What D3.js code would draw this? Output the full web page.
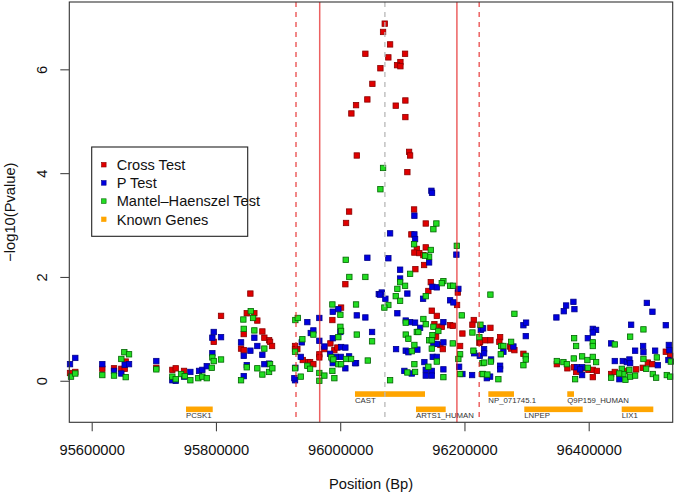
<!DOCTYPE html>
<html><head><meta charset="utf-8">
<script src="https://cdn.jsdelivr.net/npm/d3@7"></script>
<style>body{margin:0;background:#fff}svg{display:block;font-family:"Liberation Sans",Arial,sans-serif}</style>
</head><body><svg id="c" width="675" height="495"></svg>
<script>
// ---------- data ----------
const crossTest = [
[95565100,0.15],[95573600,0.17],[95617100,0.23],[95635900,0.24],[95647700,0.23],[95653100,0.23],[95654700,0.37],
[95704000,0.25],[95729800,0.21],[95735200,0.24],[95748600,0.19],[95796400,0.75],[95808200,1.25],[95855400,1.68],
[95849600,1.30],[95861800,1.30],[95866600,1.16],[95844700,0.90],[95840400,0.62],[95844700,0.59],[95874700,0.95],
[95877900,0.83],[95885500,0.78],[95887100,0.75],[95890300,0.67],
[95927300,0.67],[95931000,0.61],[95927300,0.61],[95939700,0.40],[95948200,0.36],[95951500,0.36],[95956800,0.32],
[95966400,0.51],[95966400,0.45],[95974500,0.61],[95984200,0.72],[95990600,0.59],[95995400,0.64],[95987400,1.17],
[96001400,1.41],[96008300,1.86],[96009400,3.04],[96014300,3.26],
[96071700,6.88],[96069000,6.72],[96080300,6.48],[96040500,6.30],[96104400,6.30],[96077500,6.23],[96096900,6.14],
[96091500,6.08],[96096900,6.06],[96064700,6.02],[96051800,5.72],[96043700,5.42],[96104900,5.40],[96025500,5.31],
[96089400,5.30],[96018000,5.15],[96104900,5.08],[96110900,4.41],[96112500,4.34],[96026700,4.34],[96108100,4.02],
[96118900,3.30],[96137700,3.03],[96114600,2.82],[96137700,2.57],[96123300,2.54],[96119400,2.47],[96127400,2.46],
[96133900,2.42],[96135000,2.23],[96121000,2.15],[96145800,1.90],[96141900,1.73],[96147400,1.35],[96155500,1.25],
[96151600,1.09],[96158000,1.04],[96163500,1.04],[96176900,1.07],[96181200,1.06],[96154300,0.85],[96161300,0.69],
[96165100,0.61],[96193000,0.67],[96196700,0.91],[96189300,1.70],[96188100,1.46],[96215000,1.17],[96212800,1.08],
[96224000,0.73],
[96241800,1.02],[96225200,0.75],[96233200,0.78],[96241800,0.78],[96257400,0.84],[96256200,0.75],[96273500,0.66],
[96275100,0.62],[96280400,0.59],[96294900,0.52],[96348700,0.32],[96365700,0.24],[96376500,0.26],[96379700,0.17],
[96388900,0.24],[96399500,0.21],[96406600,0.21],[96413100,0.19],[96406600,0.07],[96436100,0.13],[96442000,0.17],
[96457500,0.19],[96476300,0.22],[96487100,0.25],[96495200,0.35],[96502100,0.32],[96524100,0.56],[96531100,0.48]
];
const pTest = [
[95565100,0.32],[95573600,0.44],[95617100,0.32],[95635900,0.19],[95647700,0.14],[95653100,0.31],[95660100,0.32],
[95704000,0.38],[95729800,0.01],[95735200,0.00],[95758800,0.17],[95772800,0.19],[95778100,0.21],[95785200,0.28],
[95794200,0.53],[95794200,0.83],[95796400,0.94],[95808200,0.84],[95840400,0.74],[95844700,0.48],[95855400,0.58],
[95861800,0.83],[95866600,0.67],[95874700,0.50],[95877900,0.32],[95885500,0.33],[95849600,0.30],[95844700,0.09],
[95748600,0.08],
[95927800,0.25],[95927300,0.01],[95926200,0.05],[95936500,0.46],[95938100,0.74],[95947100,1.13],[95952600,0.92],
[95956800,0.97],[95966400,1.21],[95966400,0.77],[95974500,0.66],[95983700,0.52],[95988000,0.82],[95988000,1.33],
[95997000,1.38],[96000300,0.94],[96001400,0.65],[96008300,0.64],[96000900,0.46],[96014300,0.47],[95988000,0.42],
[95992800,0.46],[96025500,0.34],[95988000,0.34],[96008300,0.24],[96026700,1.26],[96040500,1.22],[96043700,2.37],
[96062100,1.67],[96051300,0.94],[96023900,0.34],
[96146800,3.66],[96147800,3.62],[96119400,3.18],[96080300,2.84],[96119400,2.82],[96120500,2.73],[96143100,2.28],
[96077500,2.36],[96096400,2.14],[96096400,1.97],[96148400,1.81],[96155500,1.80],[96190200,1.77],[96108100,1.68],
[96066900,1.70],[96064200,1.66],[96072700,1.58],[96133400,1.58],[96176900,1.55],[96182200,1.51],[96092000,1.30],
[96105500,1.16],[96112500,1.13],[96120500,1.12],[96128600,1.02],[96166100,1.13],[96089900,0.61],[96105500,0.58],
[96109800,0.55],[96124200,0.60],[96150000,0.71],[96155500,0.71],[96166100,0.74],[96149000,0.46],[96155500,0.46],
[96135500,0.36],[96103300,0.19],[96115200,0.14],[96137700,0.21],[96147400,0.19],[96137700,0.10],[96147400,0.10],
[96166100,0.22],[96191400,0.27],[96196700,0.13],[96212300,0.11],[96187000,2.43],[96227900,1.01],[96226300,0.98],
[96215500,0.53],[96224700,0.48],
[96230000,1.01],[96231600,0.61],[96231600,0.53],[96242900,0.41],[96257400,0.29],[96257400,0.22],[96241300,0.08],
[96236000,0.05],[96262700,0.56],[96278800,0.66],[96294900,1.07],[96299200,1.12],[96298700,0.86],[96348000,1.22],
[96359900,1.34],[96363600,1.45],[96375400,1.52],[96377000,1.38],[96398600,0.82],[96406600,1.00],[96411900,0.98],
[96406600,0.93],[96380900,0.26],[96389400,0.26],[96386200,0.22],[96389400,0.11],[96436100,0.72],[96442000,0.38],
[96454900,0.38],[96461400,0.36],[96465500,0.41],[96466700,0.34],[96449400,0.03],[96468300,1.08],[96474700,0.58],
[96487600,0.67],[96488100,0.55],[96493600,1.50],[96502600,1.33],[96506900,0.58],[96511300,0.30],[96524100,1.07],
[96529000,0.69],[96529900,0.59],[96528300,0.40]
];
const mhTest = [
[95566700,0.08],[95573600,0.14],[95617100,0.11],[95635900,0.10],[95652500,0.55],[95660100,0.51],[95647700,0.42],
[95654700,0.07],[95704000,0.22],[95729800,0.08],[95735200,0.03],[95743800,0.13],[95749700,0.09],[95758800,0.01],
[95771600,0.05],[95778100,0.08],[95785200,0.05],[95793200,0.25],[95794200,0.45],[95796400,0.38],[95808200,0.41],
[95856000,1.34],[95844100,1.18],[95859700,1.21],[95861800,0.97],[95844700,1.00],[95877900,0.62],[95849600,0.26],
[95866600,0.24],[95874700,0.12],[95885500,0.17],[95887100,0.32],[95890800,0.24],[95840400,0.01],
[95927800,1.17],[95931700,1.21],[95927300,0.56],[95927300,0.24],[95939100,0.80],[95956800,0.89],[95936500,0.08],
[95947100,0.29],[95951500,0.23],[95966400,0.15],[95974500,0.10],[95966400,0.00],[95987400,1.47],[96000300,1.27],
[96000300,1.04],[96001400,0.96],[95997000,0.84],[96026700,0.89],[96051300,0.76],[95985800,0.45],[95989000,0.41],
[96009400,0.42],[96017500,0.42],[96044400,0.39],[95997000,0.32],[96001400,0.32],[95987400,0.19],[95990600,0.05],
[96008900,2.33],[96014700,2.00],[96040500,2.00],[96025500,1.47],[96069000,4.10],[96064700,3.69],
[96154800,3.03],[96150000,2.92],[96118900,2.63],[96145800,2.52],[96143100,2.39],[96136600,2.41],[96112500,2.06],
[96096400,1.90],[96092000,1.77],[96104400,1.83],[96166100,1.92],[96163500,1.88],[96176900,1.83],[96181700,1.83],
[96137700,1.63],[96089400,1.63],[96096400,1.54],[96077500,1.46],[96071100,1.41],[96187700,2.60],[96195700,1.26],
[96133900,1.19],[96105500,1.12],[96137700,1.09],[96150000,1.04],[96158000,0.96],[96123300,0.94],[96125800,0.94],
[96105500,0.89],[96109700,0.81],[96148400,0.88],[96143100,0.78],[96147400,0.78],[96119400,0.69],[96115200,0.57],
[96181200,0.72],[96147400,0.62],[96155500,0.37],[96193000,0.51],[96190200,0.42],[96119400,0.32],[96141900,0.27],
[96108100,0.16],[96120500,0.17],[96166100,0.07],[96193000,0.13],[96080300,0.01],[96214400,0.58],[96212800,0.93],
[96224000,0.84],[96228900,0.34],[96228900,0.13],[96225700,1.08],
[96241800,1.66],[96280400,1.29],[96275100,0.75],[96259000,0.67],[96262700,0.67],[96231600,0.35],[96242400,0.37],
[96258500,0.51],[96298700,0.48],[96298700,0.41],[96294900,0.30],[96229500,0.13],[96236900,0.12],[96254600,0.03],
[96348700,0.38],[96359300,0.36],[96364800,0.32],[96376500,0.82],[96379700,0.67],[96376000,0.43],[96389400,0.47],
[96397900,0.40],[96406600,0.74],[96406600,0.67],[96406600,0.46],[96411900,0.36],[96378100,0.03],[96442000,0.70],
[96466700,0.85],[96488100,0.99],[96398600,0.25],[96453300,0.23],[96455900,0.13],[96459100,0.02],[96466700,0.08],
[96474700,0.10],[96465500,0.21],[96488100,0.42],[96492400,0.23],[96509700,0.45],[96503200,0.13],[96508500,0.06],
[96525700,0.11],[96531100,0.08],[96532200,0.37],[96436100,0.06],[96449000,0.14]
];
const geneNames = ["PCSK1","CAST","ARTS1_HUMAN","NP_071745.1","Q9P159_HUMAN","LNPEP","LIX1"];
const geneStart = [95751800,96023800,96122000,96238400,96365500,96296300,96453100];
const geneEnd   = [95794800,96136500,96169800,96279700,96376300,96390300,96504000];
const geneRow   = [2,1,2,1,1,2,2];
const solidLines = [95967000,96187850];
const dashedLines = [95928850,96223740];
const centerLine = [96071950];
const xTicks = [95600000,95800000,96000000,96200000,96400000];
const yTicks = [0,2,4,6];
const legendLabels = ["Cross Test","P Test","Mantel\u2013Haenszel Test","Known Genes"];

// ---------- drawing ----------
const svg = d3.select("#c");
const L=69.3,R=672.7,T=2,B=422.3;
const x = d3.scaleLinear().domain([95563940,96535210]).range([L,R]);
const y = d3.scaleLinear().domain([-0.8,7.297]).range([B,T]);
const rowY = {1:-0.256, 2:-0.55};
const font = '"Liberation Sans",Arial,sans-serif';

// genes
const genes = geneNames.map((n,i)=>({n,s:geneStart[i],e:geneEnd[i],r:geneRow[i]}));
svg.append("g").selectAll("rect").data(genes).join("rect")
  .attr("x",d=>x(d.s)).attr("width",d=>x(d.e)-x(d.s))
  .attr("y",d=>y(rowY[d.r])-2.8).attr("height",5.6).attr("fill","#FFA500");
svg.append("g").selectAll("text").data(genes).join("text")
  .attr("x",d=>x(d.s)).attr("y",d=>y(rowY[d.r])+9)
  .attr("font-size",7.8).attr("fill","#333").text(d=>d.n);

// points
const series = [
  {data:crossTest, fill:"#e00000", stroke:"#8a0000"},
  {data:pTest, fill:"#0000e0", stroke:"#00008a"},
  {data:mhTest, fill:"#22dd22", stroke:"#006400"}
];
const sz=5.4;
series.forEach(s=>{
  svg.append("g").selectAll("rect").data(s.data).join("rect")
    .attr("x",d=>x(d[0])-sz/2).attr("y",d=>y(d[1])-sz/2)
    .attr("width",sz).attr("height",sz)
    .attr("fill",s.fill).attr("stroke",s.stroke).attr("stroke-width",0.8);
});

// vertical lines
const vl = svg.append("g");
vl.selectAll(".c").data(centerLine).join("line").attr("class","c")
  .attr("x1",d=>x(d)).attr("x2",d=>x(d)).attr("y1",T).attr("y2",B)
  .attr("stroke","#b8b8b8").attr("stroke-width",1.3).attr("stroke-dasharray","5,5");
vl.selectAll(".s").data(solidLines).join("line").attr("class","s")
  .attr("x1",d=>x(d)).attr("x2",d=>x(d)).attr("y1",T).attr("y2",B)
  .attr("stroke","rgba(228,30,30,0.7)").attr("stroke-width",1.5);
vl.selectAll(".d").data(dashedLines).join("line").attr("class","d")
  .attr("x1",d=>x(d)).attr("x2",d=>x(d)).attr("y1",T).attr("y2",B)
  .attr("stroke","rgba(228,30,30,0.7)").attr("stroke-width",1.5).attr("stroke-dasharray","5,5");

// frame
svg.append("rect").attr("x",L).attr("y",T).attr("width",R-L).attr("height",B-T)
  .attr("fill","none").attr("stroke","#333").attr("stroke-width",1.1);

// axes
const xa = svg.append("g").attr("transform",`translate(0,${B})`)
  .call(d3.axisBottom(x).tickValues(xTicks).tickFormat(d3.format("d")).tickSize(9).tickPadding(13.5));
const ya = svg.append("g").attr("transform",`translate(${L},0)`)
  .call(d3.axisLeft(y).tickValues(yTicks).tickSize(9));
[xa,ya].forEach(a=>{
  a.select(".domain").remove();
  a.selectAll("line").attr("stroke","#444").attr("stroke-width",1.1);
  a.selectAll("text").attr("font-size",14.7).attr("font-family",font).attr("fill","#111");
});
ya.selectAll(".tick text").attr("transform","rotate(-90)").attr("x",0).attr("y",-27)
  .attr("text-anchor","middle").attr("dy","0.35em");
xa.selectAll(".tick text").attr("dy","0.71em");

// axis titles
svg.append("text").attr("x",(L+R)/2).attr("y",489).attr("text-anchor","middle")
  .attr("font-size",14.7).attr("fill","#111").text("Position (Bp)");
svg.append("text").attr("transform",`translate(15,${(T+B)/2}) rotate(-90)`).attr("text-anchor","middle")
  .attr("font-size",14.7).attr("fill","#111").text("\u2212log10(Pvalue)");

// legend
const lg = svg.append("g");
lg.append("rect").attr("x",91.7).attr("y",147).attr("width",156).attr("height",89.3)
  .attr("fill","#fff").attr("stroke","#222").attr("stroke-width",1.1);
const legFill = ["#e00000","#0000e0","#22dd22","#FFA500"];
const legStroke = ["#8a0000","#00008a","#006400","#FFA500"];
legendLabels.forEach((t,i)=>{
  const cy = 164.7 + i*18.2;
  lg.append("rect").attr("x",101.5).attr("y",cy-2.3).attr("width",4.6).attr("height",4.6)
    .attr("fill",legFill[i]).attr("stroke",legStroke[i]).attr("stroke-width",0.6);
  lg.append("text").attr("x",116.7).attr("y",cy+5.2).attr("font-size",14.6).attr("fill","#111").text(t);
});
</script></body></html>
